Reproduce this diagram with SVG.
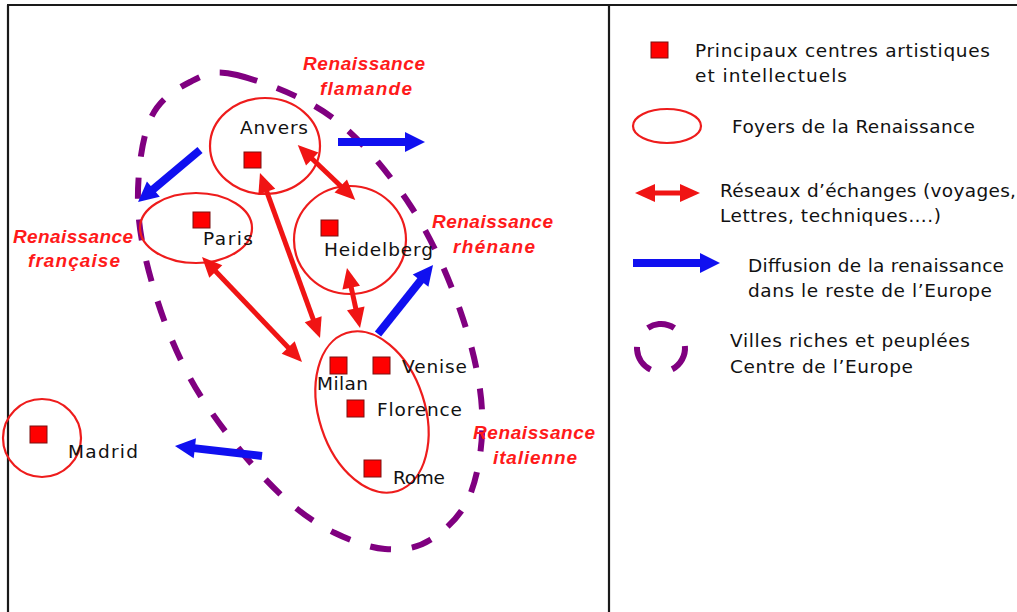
<svg xmlns="http://www.w3.org/2000/svg" width="1017" height="612" viewBox="0 0 1017 612">
<style>
.frame{stroke:#1a1a1a;stroke-width:2.2;fill:none}
.foyer{fill:none;stroke:#ee1c1c;stroke-width:2.2}
.city{fill:#ff0000;stroke:#7a1010;stroke-width:1}
.lbl{font-family:"DejaVu Sans",sans-serif;font-size:18.5px;fill:#111}
.reg{font-family:"Liberation Sans",sans-serif;font-size:19px;font-weight:bold;font-style:italic;fill:#ff1a1a}
.leg{font-family:"DejaVu Sans",sans-serif;font-size:18.5px;fill:#111}
.red{stroke:#f01414;stroke-width:5;fill:none;marker-start:url(#rh);marker-end:url(#rh)}
.blue{stroke:#1010f0;stroke-width:8;fill:none;marker-end:url(#bh)}
.zone{fill:none;stroke:#800080;stroke-width:6;stroke-dasharray:21 21}
</style>
<defs>
<marker id="rh" markerUnits="userSpaceOnUse" markerWidth="22" markerHeight="20" refX="10" refY="9" orient="auto-start-reverse" overflow="visible"><path d="M0,0 L20,9 L0,18 Z" fill="#f01414"/></marker>
<marker id="bh" markerUnits="userSpaceOnUse" markerWidth="22" markerHeight="22" refX="10" refY="10" orient="auto" overflow="visible"><path d="M0,0 L20,10 L0,20 Z" fill="#1010f0"/></marker>
</defs>
<rect x="0" y="0" width="1017" height="612" fill="#fff"/>
<g id="frame">
<line class="frame" x1="7" y1="5" x2="1017" y2="5"/>
<line class="frame" x1="8" y1="5" x2="8" y2="612"/>
<line class="frame" x1="609" y1="5" x2="609" y2="612"/>
</g>
<g id="zone-centre">
<path class="zone" d="M237,75 C260.8,81 304.2,96.3 333,118 C361.8,139.7 388.8,173 410,205 C431.2,237 448,275.8 460,310 C472,344.2 480.3,379.2 482,410 C483.7,440.8 478.7,473.3 470,495 C461.3,516.7 444.2,531 430,540 C415.8,549 400.8,550.2 385,549 C369.2,547.8 350.8,540.7 335,533 C319.2,525.3 305.8,516.8 290,503 C274.2,489.2 256.7,470.8 240,450 C223.3,429.2 204.2,404.2 190,378 C175.8,351.8 163.7,321.8 155,293 C146.3,264.2 138.8,233.8 138,205 C137.2,176.2 141.3,140.5 150,120 C158.7,99.5 175.5,89.5 190,82 C204.5,74.5 213.2,69 237,75 Z"/>
</g>
<g id="foyer-flamand">
<ellipse class="foyer" cx="265" cy="146" rx="55" ry="48"/>
<rect class="city" x="244" y="152" width="17" height="16"/>
<text class="lbl" x="240" y="134" textLength="68">Anvers</text>
<text class="reg" x="303" y="70" textLength="122">Renaissance</text>
<text class="reg" x="320" y="95" textLength="92">flamande</text>
</g>
<g id="foyer-francais">
<ellipse class="foyer" cx="196" cy="228" rx="56" ry="35"/>
<rect class="city" x="193" y="212" width="17" height="16"/>
<text class="lbl" x="203" y="245" textLength="50">Paris</text>
<text class="reg" x="13" y="243" textLength="120">Renaissance</text>
<text class="reg" x="28" y="267" textLength="92">française</text>
</g>
<g id="foyer-rhenan">
<ellipse class="foyer" cx="350" cy="240" rx="56" ry="54"/>
<rect class="city" x="321" y="220" width="17" height="16"/>
<text class="lbl" x="324" y="256" textLength="109">Heidelberg</text>
<text class="reg" x="432" y="228" textLength="121">Renaissance</text>
<text class="reg" x="453" y="253" textLength="82">rhénane</text>
</g>
<g id="foyer-italien">
<ellipse class="foyer" cx="372" cy="412" rx="53" ry="83" transform="rotate(-18 372 412)"/>
<rect class="city" x="330" y="357" width="17" height="17"/>
<rect class="city" x="373" y="357" width="17" height="17"/>
<rect class="city" x="347" y="400" width="17" height="17"/>
<rect class="city" x="364" y="460" width="17" height="17"/>
<text class="lbl" x="317" y="390" textLength="51">Milan</text>
<text class="lbl" x="402" y="373" textLength="65">Venise</text>
<text class="lbl" x="377" y="416" textLength="85">Florence</text>
<text class="lbl" x="393" y="484" textLength="52">Rome</text>
<text class="reg" x="473" y="439" textLength="122">Renaissance</text>
<text class="reg" x="493" y="464" textLength="84">italienne</text>
</g>
<g id="foyer-madrid">
<circle class="foyer" cx="42" cy="438" r="39"/>
<rect class="city" x="30" y="426" width="17" height="17"/>
<text class="lbl" x="68" y="458" textLength="70">Madrid</text>
</g>
<g id="connectors">
<line class="red" x1="305" y1="152" x2="348" y2="193"/>
<line class="red" x1="263.4" y1="182.4" x2="316.6" y2="328.6"/>
<line class="red" x1="208.9" y1="264.2" x2="295.1" y2="354.8"/>
<line class="red" x1="349.1" y1="277.8" x2="357.9" y2="318.2"/>
<line class="blue" x1="338" y1="142" x2="415" y2="142"/>
<line class="blue" x1="200" y1="150" x2="145.7" y2="195.6"/>
<line class="blue" x1="378" y1="334" x2="426.8" y2="272.8"/>
<line class="blue" x1="262" y1="456" x2="184.9" y2="447.1"/>
</g>
<g id="legend">
<rect class="city" x="651" y="42" width="17" height="16"/>
<text class="leg" x="695" y="57" textLength="295">Principaux centres artistiques</text>
<text class="leg" x="695" y="82" textLength="152">et intellectuels</text>
<ellipse class="foyer" cx="667" cy="126" rx="34" ry="17"/>
<text class="leg" x="732" y="133" textLength="243">Foyers de la Renaissance</text>
<line class="red" x1="645" y1="193" x2="690" y2="193"/>
<text class="leg" x="720" y="197" textLength="296">Réseaux d’échanges (voyages,</text>
<text class="leg" x="720" y="222" textLength="221">Lettres, techniques….)</text>
<line class="blue" x1="633" y1="263" x2="710" y2="263"/>
<text class="leg" x="748" y="272" textLength="256">Diffusion de la renaissance</text>
<text class="leg" x="748" y="297" textLength="244">dans le reste de l’Europe</text>
<circle cx="661" cy="348" r="24" fill="none" stroke="#800080" stroke-width="6" stroke-dasharray="28 22.27" transform="rotate(-5 661 348)"/>
<text class="leg" x="730" y="347" textLength="240">Villes riches et peuplées</text>
<text class="leg" x="730" y="373" textLength="183">Centre de l’Europe</text>
</g>
</svg>
